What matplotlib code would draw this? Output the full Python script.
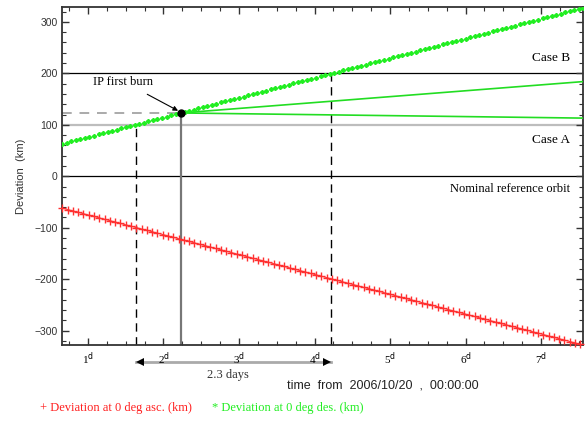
import matplotlib
matplotlib.use("Agg")
import matplotlib.pyplot as plt
from matplotlib.ticker import MultipleLocator, FixedLocator, FixedFormatter

# ---------------- data ----------------
red_days = [0.66, 0.73, 0.80, 0.87, 0.94, 1.01, 1.08, 1.15, 1.22, 1.29,
            1.36, 1.43, 1.50, 1.57, 1.64, 1.71, 1.78, 1.85, 1.92, 1.99,
            2.06, 2.13, 2.20, 2.27, 2.34, 2.41, 2.48, 2.55, 2.62, 2.69,
            2.76, 2.83, 2.90, 2.97, 3.04, 3.11, 3.18, 3.25, 3.32, 3.39,
            3.46, 3.53, 3.60, 3.67, 3.74, 3.81, 3.88, 3.95, 4.02, 4.09,
            4.16, 4.23, 4.30, 4.37, 4.44, 4.51, 4.58, 4.65, 4.72, 4.79,
            4.86, 4.93, 5.00, 5.07, 5.14, 5.21, 5.28, 5.35, 5.42, 5.49,
            5.56, 5.63, 5.70, 5.77, 5.84, 5.91, 5.98, 6.05, 6.12, 6.19,
            6.26, 6.33, 6.40, 6.47, 6.54, 6.61, 6.68, 6.75, 6.82, 6.89,
            6.96, 7.03, 7.10, 7.17, 7.24, 7.31, 7.38, 7.45, 7.52]
red_dev = [-62.0, -64.7, -67.4, -70.1, -72.8, -75.5, -78.2, -80.9, -83.6, -86.3,
           -89.0, -91.7, -94.4, -97.1, -99.8, -102.5, -105.2, -107.9, -110.6, -113.3,
           -116.0, -118.7, -121.4, -124.1, -126.8, -129.5, -132.2, -134.9, -137.6, -140.3,
           -143.0, -145.7, -148.4, -151.1, -153.8, -156.5, -159.2, -161.9, -164.6, -167.3,
           -170.0, -172.7, -175.4, -178.1, -180.8, -183.5, -186.2, -188.9, -191.6, -194.3,
           -197.0, -199.7, -202.4, -205.1, -207.8, -210.5, -213.2, -215.9, -218.6, -221.3,
           -224.0, -226.7, -229.4, -232.1, -234.8, -237.5, -240.2, -242.9, -245.6, -248.3,
           -251.0, -253.7, -256.4, -259.1, -261.8, -264.5, -267.2, -269.9, -272.6, -275.3,
           -278.0, -280.7, -283.4, -286.1, -288.8, -291.5, -294.2, -296.9, -299.6, -302.3,
           -305.0, -307.7, -310.4, -313.1, -315.8, -318.5, -321.2, -323.9, -326.6]

green_days = [0.66, 0.72, 0.78, 0.84, 0.90, 0.96, 1.02, 1.08, 1.14, 1.20,
              1.26, 1.32, 1.38, 1.44, 1.50, 1.56, 1.62, 1.68, 1.74, 1.80,
              1.86, 1.92, 1.98, 2.04, 2.10, 2.16, 2.22, 2.28, 2.34, 2.40,
              2.46, 2.52, 2.58, 2.64, 2.70, 2.76, 2.82, 2.88, 2.94, 3.00,
              3.06, 3.12, 3.18, 3.24, 3.30, 3.36, 3.42, 3.48, 3.54, 3.60,
              3.66, 3.72, 3.78, 3.84, 3.90, 3.96, 4.02, 4.08, 4.14, 4.20,
              4.26, 4.32, 4.38, 4.44, 4.50, 4.56, 4.62, 4.68, 4.74, 4.80,
              4.86, 4.92, 4.98, 5.04, 5.10, 5.16, 5.22, 5.28, 5.34, 5.40,
              5.46, 5.52, 5.58, 5.64, 5.70, 5.76, 5.82, 5.88, 5.94, 6.00,
              6.06, 6.12, 6.18, 6.24, 6.30, 6.36, 6.42, 6.48, 6.54, 6.60,
              6.66, 6.72, 6.78, 6.84, 6.90, 6.96, 7.02, 7.08, 7.14, 7.20,
              7.26, 7.32, 7.38, 7.44, 7.50, 7.56]
green_dev = [63.0, 65.3, 67.6, 69.9, 72.2, 74.5, 76.8, 79.1, 81.4, 83.7,
             86.0, 88.3, 90.6, 92.9, 95.2, 97.5, 99.8, 102.1, 104.4, 106.7,
             109.0, 111.3, 113.6, 115.9, 118.2, 120.5, 122.8, 125.1, 127.4, 129.7,
             132.0, 134.3, 136.6, 138.9, 141.2, 143.5, 145.8, 148.1, 150.4, 152.7,
             155.0, 157.3, 159.6, 161.9, 164.2, 166.5, 168.8, 171.1, 173.4, 175.7,
             178.0, 180.3, 182.6, 184.9, 187.2, 189.5, 191.8, 194.1, 196.4, 198.7,
             201.0, 203.3, 205.6, 207.9, 210.2, 212.5, 214.8, 217.1, 219.4, 221.7,
             224.0, 226.3, 228.6, 230.9, 233.2, 235.5, 237.8, 240.1, 242.4, 244.7,
             247.0, 249.3, 251.6, 253.9, 256.2, 258.5, 260.8, 263.1, 265.4, 267.7,
             270.0, 272.3, 274.6, 276.9, 279.2, 281.5, 283.8, 286.1, 288.4, 290.7,
             293.0, 295.3, 297.6, 299.9, 302.2, 304.5, 306.8, 309.1, 311.4, 313.7,
             316.0, 318.3, 320.6, 322.9, 325.2, 327.5]

burn_day = 2.23
burn_dev = 123
after_burn_days = [2.23, 7.56]
after_burn_high = [123, 184]
after_burn_low = [123, 113]
cross_a_day = 1.64   # green crosses Case A (100 km)
cross_b_day = 4.22   # green crosses Case B (200 km)
case_a_level = 100
case_b_level = 200
xtick_days = [1, 2, 3, 4, 5, 6, 7]
xtick_labels = ["1$^{\\rm d}$", "2$^{\\rm d}$", "3$^{\\rm d}$", "4$^{\\rm d}$",
                "5$^{\\rm d}$", "6$^{\\rm d}$", "7$^{\\rm d}$"]
ytick_values = [-300, -200, -100, 0, 100, 200, 300]
xlim = (0.656, 7.556)
ylim = (-328, 329)

SERIF = "Liberation Serif"
SANS = "Liberation Sans"

fig = plt.figure(figsize=(5.85, 4.23), dpi=100)
ax = fig.add_axes([0.106, 0.1844, 0.8906, 0.7991])
ax.set_xlim(*xlim)
ax.set_ylim(*ylim)

# reference lines
ax.axhline(case_b_level, color="black", lw=0.9, zorder=1)
ax.axhline(0, color="black", lw=0.9, zorder=1)
ax.axhline(case_a_level, color="#bdbdbd", lw=1.6, zorder=1)
ax.plot([xlim[0], burn_day], [burn_dev, burn_dev], color="#aaaaaa", lw=1.4,
        ls=(0, (5, 4)), zorder=1)
ax.plot([cross_a_day, cross_a_day], [ylim[0], case_a_level], color="black",
        lw=1.0, ls=(0, (6, 4)), zorder=2)
ax.plot([cross_b_day, cross_b_day], [ylim[0], case_b_level], color="black",
        lw=1.0, ls=(0, (6, 4)), zorder=2)
ax.plot([burn_day, burn_day], [ylim[0], burn_dev], color="#777777", lw=1.6, zorder=2)

# post-burn trajectories
ax.plot(after_burn_days, after_burn_high, color="#22dd22", lw=1.2, zorder=3)
ax.plot(after_burn_days, after_burn_low, color="#22dd22", lw=1.2, zorder=3)

# series
ax.plot(red_days, red_dev, color="#ff3030", lw=0.7, marker="+", ms=5.5, mew=1.0,
        zorder=4, clip_on=False)
ax.plot(green_days, green_dev, color="#22ee22", lw=0, marker=(6, 2, 0), ms=3.0,
        mew=1.2, zorder=4, clip_on=True)

ax.plot([burn_day], [burn_dev], "o", color="black", ms=5, zorder=6)

# annotations
ax.annotate("IP first burn", xy=(burn_day - 0.02, burn_dev + 3),
            xytext=(1.47, 184), ha="center", va="center",
            fontsize=9, family=SERIF,
            arrowprops=dict(arrowstyle="-|>", color="black", lw=0.8,
                            mutation_scale=7, shrinkA=6, shrinkB=1))
ax.text(7.38, 229, "Case B", ha="right", va="center", fontsize=9.5, family=SERIF)
ax.text(7.38, 71, "Case A", ha="right", va="center", fontsize=9.5, family=SERIF)
ax.text(7.38, -25, "Nominal reference orbit", ha="right", va="center",
        fontsize=9, family=SERIF)

# axes styling
for s in ax.spines.values():
    s.set_linewidth(1.3)
    s.set_color("#333333")
ax.xaxis.set_major_locator(FixedLocator(xtick_days))
ax.xaxis.set_major_formatter(FixedFormatter(xtick_labels))
ax.xaxis.set_minor_locator(MultipleLocator(0.25))
ax.yaxis.set_major_locator(FixedLocator(ytick_values))
ax.yaxis.set_minor_locator(MultipleLocator(20))
ax.tick_params(which="both", direction="in", top=True, right=True, color="#333333")
ax.tick_params(which="major", length=5, width=1.0)
ax.tick_params(which="minor", length=3, width=0.8)
ax.tick_params(axis="x", labelsize=8, pad=4)
ax.tick_params(axis="y", labelsize=7.5, pad=3)
for lab in ax.get_xticklabels():
    lab.set_family(SERIF)
for lab in ax.get_yticklabels():
    lab.set_family(SANS)
    lab.set_color("#333333")
ax.set_ylabel("Deviation  (km)", family=SANS, fontsize=8, color="#333333", labelpad=6)

# 2.3 days arrow below the axes
arrow_y = -362
ax.plot([cross_a_day, cross_b_day], [arrow_y, arrow_y], color="#aaaaaa",
        lw=2.0, clip_on=False, zorder=1)
ax.plot([cross_a_day + 0.05], [arrow_y], marker="<", color="black", ms=6,
        mew=0, clip_on=False, zorder=2)
ax.plot([cross_b_day - 0.05], [arrow_y], marker=">", color="black", ms=6,
        mew=0, clip_on=False, zorder=2)
ax.text((cross_a_day + cross_b_day) / 2 - 0.08, -387, "2.3 days", ha="center",
        va="center", fontsize=9, family=SERIF, color="#333333")
fig.text(383 / 585, 1 - 385 / 423, "time  from  2006/10/20  ,  00:00:00",
         ha="center", va="center", fontsize=9, family=SANS, color="#222222")

fig.text(40 / 585, 1 - 408 / 423, "+ Deviation at 0 deg asc. (km)", ha="left",
         va="center", fontsize=9, family=SERIF, color="#ff2020")
fig.text(212 / 585, 1 - 408 / 423, "* Deviation at 0 deg des. (km)", ha="left",
         va="center", fontsize=9, family=SERIF, color="#22ee22")

fig.savefig("out.png", dpi=100)
